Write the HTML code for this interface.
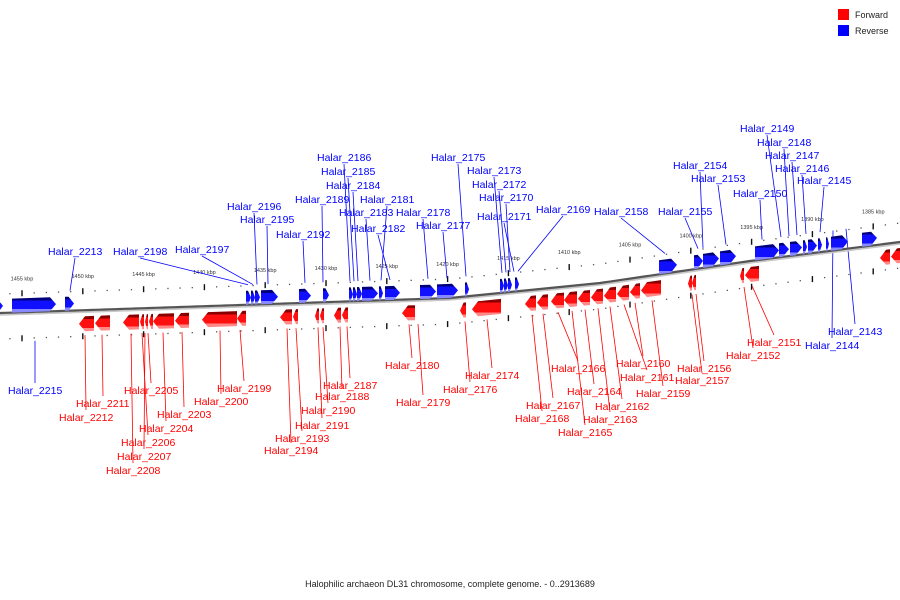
<!DOCTYPE html>
<html><head><meta charset="utf-8"><style>
html,body{margin:0;padding:0;background:#fff}
svg{display:block}
text{font-family:"Liberation Sans","DejaVu Sans",sans-serif}
</style></head><body>
<svg id="map" width="900" height="600" viewBox="0 0 900 600" xmlns="http://www.w3.org/2000/svg">
<defs>
<linearGradient id="gBlue" x1="0" y1="0" x2="0" y2="1">
<stop offset="0" stop-color="#00007a"/><stop offset="0.2" stop-color="#00007a"/>
<stop offset="0.2" stop-color="#1010ff"/><stop offset="0.78" stop-color="#1010ff"/>
<stop offset="0.78" stop-color="#8888ff"/><stop offset="1" stop-color="#8888ff"/>
</linearGradient>
<linearGradient id="gRed" x1="0" y1="0" x2="0" y2="1">
<stop offset="0" stop-color="#8a0000"/><stop offset="0.2" stop-color="#8a0000"/>
<stop offset="0.2" stop-color="#ff1010"/><stop offset="0.78" stop-color="#ff1010"/>
<stop offset="0.78" stop-color="#ff8888"/><stop offset="1" stop-color="#ff8888"/>
</linearGradient>
</defs>
<g id="ticks"></g>
<g id="leaders"></g>
<g id="backbone"></g>
<g id="genes"></g>
<g id="labels"></g>
<g>
<rect x="838" y="9" width="11" height="11" fill="#f00"/>
<text x="855" y="18" font-size="9" fill="#222">Forward</text>
<rect x="838" y="25" width="11" height="11" fill="#00f"/>
<text x="855" y="34" font-size="9" fill="#222">Reverse</text>
</g>
<text x="450" y="587" font-size="9" text-anchor="middle" fill="#222">Halophilic archaeon DL31 chromosome, complete genome. - 0..2913689</text>
</svg>
<script>
const NS="http://www.w3.org/2000/svg";
// backbone curve control points (x, y)
const bbX=[0,150,300,450,600,750,900];
const bbY=[313,308,303,298,283,261,242];
// ticks (kbp)
const majorKbp=[1455,1450,1445,1440,1435,1430,1425,1420,1415,1410,1405,1400,1395,1390,1385];
// reverse (blue) genes: start, end
const blueStart=[-6,12,65,246,251,255,261,299,323,349,353,357,362,379,385,420,437,465,500,504,508,515,659,694,703,720,755,779,790,803,808,818,826,831,862];
const blueEnd=  [3,56,74,251,255,260,278,311,329,353,357,362,378,383,400,436,458,469,504,508,512,519,677,703,719,736,779,789,802,807,817,822,829,848,877];
// forward (red) genes
const redStart=[79,95,123,140,145,149,153,175,202,237,280,293,315,320,334,342,402,460,472,525,537,551,564,578,591,604,617,630,641,688,692,740,745,880,891];
const redEnd=  [94,110,139,144,148,153,174,189,237,246,292,298,319,324,341,348,415,466,501,536,548,564,577,590,603,616,629,640,661,692,696,744,759,890,902];
// labels
const labNames=["Halar_2149","Halar_2148","Halar_2147","Halar_2146","Halar_2145","Halar_2154","Halar_2153","Halar_2150","Halar_2155","Halar_2158","Halar_2169","Halar_2175","Halar_2173","Halar_2172","Halar_2170","Halar_2171","Halar_2186","Halar_2185","Halar_2184","Halar_2189","Halar_2181","Halar_2183","Halar_2178","Halar_2177","Halar_2182","Halar_2196","Halar_2195","Halar_2192","Halar_2213","Halar_2198","Halar_2197",
"Halar_2215","Halar_2143","Halar_2144",
"Halar_2151","Halar_2152","Halar_2156","Halar_2157","Halar_2160","Halar_2161","Halar_2159","Halar_2162","Halar_2163","Halar_2164","Halar_2165","Halar_2166","Halar_2167","Halar_2168","Halar_2174","Halar_2176","Halar_2180","Halar_2179","Halar_2187","Halar_2188","Halar_2190","Halar_2191","Halar_2193","Halar_2194","Halar_2199","Halar_2200","Halar_2205","Halar_2203","Halar_2204","Halar_2206","Halar_2207","Halar_2208","Halar_2211","Halar_2212"];
const labX=[740,757,765,775,797,673,691,733,658,594,536,431,467,472,479,477,317,321,326,295,360,339,396,416,351,227,240,276,48,113,175,
8,828,805,
747,726,677,675,616,620,636,595,583,567,558,551,526,515,465,443,385,396,323,315,301,295,275,264,217,194,124,157,139,121,117,106,76,59];
const labY=[132,146,159,172,184,169,182,197,215,215,213,161,174,188,201,220,161,175,189,203,203,216,216,229,232,210,223,238,255,255,253,
394,335,349,
346,359,372,384,367,381,397,410,423,395,436,372,409,422,379,393,369,406,389,400,414,429,442,454,392,405,394,418,432,446,460,474,407,421];
// gene x each label points to
const labTarget=[781,789,797,806,820,703,726,762,698,665,518,466,502,506,510,514,350,354,358,323,381,370,428,447,390,257,268,305,70,248,253,
35,846,833,
752,744,696,692,635,624,652,610,598,585,572,558,543,532,487,465,409,418,347,340,323,318,296,287,240,220,148,182,163,142,145,131,102,85];
// side: 0 = label above (blue, top), 1 = blue label below, 2 = red label below
const labSide=[0,0,0,0,0,0,0,0,0,0,0,0,0,0,0,0,0,0,0,0,0,0,0,0,0,0,0,0,0,0,0,
1,1,1,
2,2,2,2,2,2,2,2,2,2,2,2,2,2,2,2,2,2,2,2,2,2,2,2,2,2,2,2,2,2,2,2,2,2];

function bb(x){
  if(x<=bbX[0]) return bbY[0]+(x-bbX[0])*(bbY[1]-bbY[0])/(bbX[1]-bbX[0]);
  for(let i=1;i<bbX.length;i++){
    if(x<=bbX[i]) return bbY[i-1]+(x-bbX[i-1])*(bbY[i]-bbY[i-1])/(bbX[i]-bbX[i-1]);
  }
  const n=bbX.length-1;
  return bbY[n]+(x-bbX[n])*(bbY[n]-bbY[n-1])/(bbX[n]-bbX[n-1]);
}
function kbpX(k){return 22+(1455-k)*12.16;}
function mk(tag,attrs,parent){const e=document.createElementNS(NS,tag);for(const k in attrs)e.setAttribute(k,attrs[k]);parent.appendChild(e);return e;}

// backbone
const bbg=document.getElementById('backbone');
let d="";for(let x=-5;x<=905;x+=5){d+=(x===-5?"M":"L")+x+" "+bb(x).toFixed(2)+" ";}
const p1=mk('path',{d:d,fill:'none',stroke:'#c8c8c8','stroke-width':2,transform:'translate(0,1.8)'},bbg);


const p2=mk('path',{d:d,fill:'none',stroke:'#555','stroke-width':2.2},bbg);



// ticks
const tg=document.getElementById('ticks');
for(let k=1456;k>=1383;k--){
  const x=kbpX(k); if(x<0||x>900) continue;
  const major=(k%5===0);
  const yU=bb(x)-19, yL=bb(x)+26;
  if(major){
    const a=mk('rect',{x:x-0.7,y:yU-3,width:1.4,height:6,fill:'#111'},tg);
    
    
    const b=mk('rect',{x:x-0.7,y:yL-3,width:1.4,height:6,fill:'#111'},tg);
    
    
  } else {
    const a=mk('rect',{x:x-0.6,y:yU-0.6,width:1.3,height:1.3,fill:'#555'},tg);
    
    
    const b=mk('rect',{x:x-0.6,y:yL-0.6,width:1.3,height:1.3,fill:'#555'},tg);
    
    
  }
}
majorKbp.forEach(k=>{
  const x=kbpX(k);
  const t=mk('text',{x:x,y:bb(x)-32,'font-size':5.5,'text-anchor':'middle',fill:'#333'},tg);
  t.textContent=k+" kbp";
  
  
});

// genes
const gg=document.getElementById('genes');
function gene(x1,x2,rev){
  const w=x2-x1, h=Math.min(6,w*0.6);
  let t,b,pts;
  const off=rev?[-14,0]:[6,21];
  const T=x=>bb(x)+off[0], B=x=>bb(x)+off[1], M=x=>bb(x)+(off[0]+off[1])/2;
  if(rev){
    pts=[[x1,T(x1)],[x2-h,T(x2-h)],[x2,M(x2)],[x2-h,B(x2-h)],[x1,B(x1)]];
  } else {
    pts=[[x2,T(x2)],[x1+h,T(x1+h)],[x1,M(x1)],[x1+h,B(x1+h)],[x2,B(x2)]];
  }
  const el=mk('polygon',{points:pts.map(p=>p[0].toFixed(1)+","+p[1].toFixed(1)).join(" "),fill:rev?'url(#gBlue)':'url(#gRed)'},gg);
  return el;
}
for(let i=0;i<blueStart.length;i++){
  const el=gene(blueStart[i],blueEnd[i],true);
  
  
}
for(let i=0;i<redStart.length;i++){
  const el=gene(redStart[i],redEnd[i],false);
  
  
}

// labels and leaders
const lg=document.getElementById('labels'), ld=document.getElementById('leaders');
for(let i=0;i<labNames.length;i++){
  const side=labSide[i], col=side===2?'#f00':'#00f';
  const tx=labX[i], ty=labY[i], gx=labTarget[i];
  const t=mk('text',{x:tx,y:ty,'font-size':10.5,fill:col},lg);
  t.textContent=labNames[i];
  
  
  let x1,y1,x2,y2;
  const cx=tx+27;
  if(side===0){x1=cx;y1=ty+3;x2=gx;y2=bb(gx)-20;}
  else if(side===1){x1=gx;y1=bb(gx)+(gx<100?29:-20);x2=cx;y2=ty-11;}
  else {x1=gx;y1=bb(gx)+25;x2=cx;y2=ty-11;}
  const l=mk('line',{x1:x1,y1:y1,x2:x2,y2:y2,stroke:col,'stroke-width':0.8},ld);
  
  
}
</script>
</body></html>
